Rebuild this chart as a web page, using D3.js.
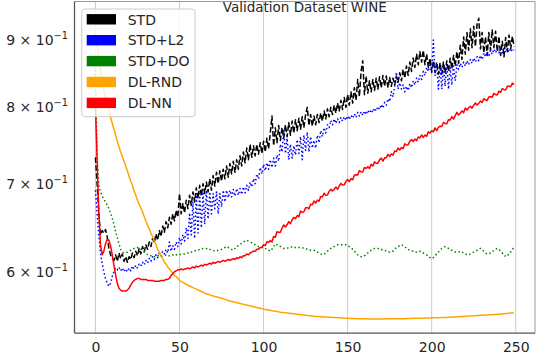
<!DOCTYPE html>
<html><head><meta charset="utf-8">
<script src="https://cdn.jsdelivr.net/npm/d3@7"></script>
<style>body{margin:0;background:#fff} svg{display:block;font-family:"DejaVu Sans",sans-serif}</style>
</head><body><svg id="c" width="552" height="356"></svg>
<script>
const chartTitle = "Validation Dataset WINE";
const seriesNames = ["STD", "STD+L2", "STD+DO", "DL-RND", "DL-NN"];
const seriesColors = ["#000000", "#0000ff", "#008000", "#ffa500", "#ff0000"];
const xTicks = [0, 50, 100, 150, 200, 250];
const yTicks = [0.9, 0.8, 0.7, 0.6];
const yTickMantissa = ["9", "8", "7", "6"];

const std = [
0.733,0.700,0.665,0.640,0.645,0.642,0.646,0.638,0.625,0.618,
0.614,0.612,0.618,0.611,0.620,0.614,0.619,0.611,0.616,0.610,
0.616,0.613,0.620,0.615,0.622,0.617,0.625,0.619,0.627,0.621,
0.629,0.624,0.632,0.627,0.636,0.631,0.641,0.634,0.645,0.638,
0.650,0.643,0.655,0.648,0.660,0.652,0.664,0.656,0.668,0.660,
0.688,0.664,0.676,0.665,0.680,0.670,0.686,0.674,0.690,0.678,
0.695,0.682,0.698,0.685,0.700,0.688,0.702,0.690,0.706,0.692,
0.710,0.697,0.714,0.700,0.716,0.703,0.718,0.706,0.722,0.708,
0.725,0.712,0.728,0.714,0.730,0.718,0.735,0.722,0.740,0.726,
0.745,0.730,0.750,0.733,0.748,0.735,0.750,0.737,0.752,0.738,
0.754,0.740,0.758,0.744,0.765,0.788,0.748,0.772,0.752,0.775,
0.755,0.772,0.758,0.776,0.760,0.779,0.762,0.781,0.765,0.783,
0.768,0.785,0.770,0.787,0.772,0.790,0.800,0.775,0.790,0.774,
0.788,0.776,0.790,0.779,0.792,0.781,0.795,0.784,0.798,0.787,
0.800,0.790,0.803,0.792,0.806,0.795,0.810,0.797,0.814,0.800,
0.818,0.803,0.822,0.806,0.828,0.810,0.840,0.815,0.852,0.868,
0.818,0.845,0.820,0.838,0.822,0.840,0.824,0.842,0.826,0.844,
0.828,0.846,0.830,0.845,0.828,0.843,0.830,0.842,0.832,0.845,
0.836,0.850,0.838,0.855,0.842,0.860,0.846,0.866,0.852,0.872,
0.858,0.878,0.862,0.882,0.866,0.884,0.862,0.878,0.858,0.872,
0.852,0.868,0.850,0.866,0.848,0.865,0.848,0.866,0.850,0.868,
0.852,0.872,0.856,0.876,0.860,0.882,0.864,0.892,0.870,0.905,
0.878,0.912,0.884,0.918,0.888,0.922,0.890,0.925,0.935,0.886,
0.912,0.880,0.905,0.876,0.912,0.884,0.916,0.888,0.914,0.882,
0.906,0.876,0.898,0.874,0.904,0.882,0.908,0.886,0.906,0.890];

const stdL2 = [
0.692,0.665,0.640,0.620,0.609,0.600,0.593,0.588,0.585,0.588,
0.595,0.600,0.604,0.602,0.605,0.601,0.604,0.600,0.603,0.600,
0.604,0.601,0.606,0.603,0.607,0.604,0.608,0.606,0.610,0.607,
0.612,0.609,0.614,0.611,0.616,0.613,0.618,0.615,0.620,0.617,
0.622,0.619,0.624,0.620,0.632,0.622,0.628,0.624,0.632,0.627,
0.637,0.630,0.640,0.633,0.648,0.636,0.665,0.640,0.678,0.636,
0.684,0.642,0.688,0.648,0.690,0.652,0.692,0.658,0.690,0.664,
0.688,0.670,0.690,0.664,0.688,0.672,0.692,0.678,0.692,0.683,
0.692,0.684,0.693,0.685,0.694,0.686,0.694,0.687,0.696,0.689,
0.698,0.692,0.702,0.696,0.706,0.700,0.712,0.706,0.720,0.712,
0.724,0.716,0.726,0.718,0.730,0.720,0.732,0.722,0.736,0.728,
0.750,0.740,0.770,0.738,0.758,0.730,0.750,0.732,0.748,0.736,
0.756,0.738,0.760,0.730,0.762,0.742,0.766,0.740,0.760,0.745,
0.755,0.745,0.762,0.752,0.768,0.760,0.772,0.765,0.776,0.772,
0.782,0.776,0.784,0.778,0.784,0.779,0.786,0.781,0.787,0.782,
0.788,0.783,0.789,0.785,0.791,0.786,0.793,0.788,0.794,0.789,
0.795,0.790,0.796,0.792,0.797,0.793,0.799,0.795,0.801,0.797,
0.804,0.799,0.807,0.803,0.812,0.808,0.822,0.815,0.830,0.851,
0.826,0.835,0.826,0.832,0.822,0.830,0.824,0.834,0.828,0.838,
0.832,0.842,0.836,0.846,0.840,0.852,0.846,0.858,0.852,0.864,
0.850,0.900,0.846,0.862,0.826,0.858,0.826,0.860,0.830,0.862,
0.826,0.858,0.832,0.860,0.838,0.862,0.855,0.864,0.858,0.866,
0.860,0.868,0.862,0.870,0.864,0.872,0.866,0.874,0.868,0.876,
0.870,0.880,0.874,0.882,0.876,0.884,0.878,0.886,0.880,0.886,
0.880,0.886,0.880,0.887,0.881,0.887,0.881,0.887,0.882,0.885];

const stdDO = [
0.854,0.730,0.698,0.690,0.685,0.681,0.678,0.674,0.670,0.665,
0.659,0.652,0.644,0.637,0.630,0.624,0.621,0.620,0.620,0.621,
0.622,0.623,0.624,0.625,0.626,0.626,0.625,0.624,0.623,0.622,
0.620,0.618,0.617,0.617,0.616,0.616,0.616,0.617,0.617,0.616,
0.617,0.617,0.618,0.617,0.617,0.618,0.618,0.617,0.618,0.618,
0.618,0.619,0.619,0.619,0.620,0.620,0.621,0.621,0.622,0.622,
0.623,0.623,0.624,0.624,0.625,0.625,0.625,0.624,0.624,0.623,
0.623,0.622,0.622,0.623,0.623,0.624,0.625,0.626,0.627,0.626,
0.625,0.624,0.623,0.625,0.627,0.628,0.629,0.631,0.632,0.633,
0.634,0.633,0.632,0.631,0.630,0.629,0.628,0.627,0.627,0.626,
0.626,0.625,0.624,0.623,0.622,0.624,0.627,0.630,0.629,0.628,
0.627,0.626,0.625,0.625,0.625,0.626,0.626,0.627,0.626,0.626,
0.626,0.626,0.626,0.626,0.625,0.625,0.624,0.624,0.623,0.623,
0.623,0.622,0.621,0.620,0.619,0.618,0.619,0.620,0.622,0.623,
0.625,0.626,0.627,0.628,0.629,0.629,0.629,0.629,0.629,0.629,
0.628,0.627,0.626,0.624,0.622,0.620,0.618,0.617,0.616,0.616,
0.617,0.618,0.620,0.622,0.623,0.624,0.625,0.625,0.625,0.624,
0.624,0.623,0.623,0.622,0.621,0.621,0.622,0.622,0.624,0.626,
0.627,0.628,0.629,0.628,0.627,0.625,0.624,0.623,0.622,0.622,
0.621,0.621,0.622,0.622,0.621,0.620,0.619,0.618,0.616,0.615,
0.614,0.615,0.617,0.619,0.621,0.623,0.625,0.626,0.627,0.626,
0.625,0.624,0.623,0.622,0.621,0.621,0.621,0.622,0.621,0.620,
0.619,0.618,0.618,0.619,0.620,0.621,0.622,0.623,0.624,0.625,
0.624,0.622,0.620,0.619,0.619,0.620,0.621,0.623,0.624,0.625,
0.624,0.622,0.620,0.618,0.616,0.617,0.619,0.621,0.624,0.626];

const dlRnd = [
0.916,0.892,0.872,0.854,0.839,0.826,0.814,0.804,0.796,0.786,
0.778,0.770,0.762,0.754,0.747,0.740,0.734,0.728,0.722,0.716,
0.709,0.703,0.698,0.691,0.686,0.680,0.675,0.671,0.666,0.661,
0.656,0.651,0.647,0.642,0.638,0.633,0.629,0.624,0.621,0.617,
0.614,0.610,0.608,0.605,0.603,0.601,0.598,0.596,0.595,0.593,
0.591,
0.5900,0.5890,0.5880,0.5870,0.5860,0.5852,0.5844,0.5836,0.5828,0.5820,
0.5812,0.5804,0.5796,0.5788,0.5780,0.5774,0.5768,0.5762,0.5756,0.5750,
0.5746,0.5742,0.5738,0.5734,0.5730,0.5724,0.5718,0.5712,0.5706,0.5700,
0.5696,0.5692,0.5688,0.5684,0.5680,0.5676,0.5672,0.5668,0.5664,0.5660,
0.5656,0.5652,0.5648,0.5644,0.5640,0.5636,0.5632,0.5628,0.5624,0.5620,
0.5617,0.5614,0.5611,0.5608,0.5605,0.5602,0.5599,0.5596,0.5593,0.5590,
0.5588,0.5586,0.5584,0.5582,0.5580,0.5578,0.5576,0.5574,0.5572,0.5570,
0.5568,0.5566,0.5564,0.5562,0.5560,0.5558,0.5556,0.5554,0.5552,0.5550,
0.5549,0.5548,0.5547,0.5546,0.5545,0.5544,0.5543,0.5542,0.5541,0.5540,
0.5539,0.5538,0.5537,0.5536,0.5535,0.5534,0.5533,0.5532,0.5531,0.5530,
0.5529,0.5529,0.5528,0.5528,0.5527,0.5527,0.5526,0.5526,0.5525,0.5525,
0.5525,0.5524,0.5524,0.5524,0.5524,0.5524,0.5524,0.5524,0.5524,0.5524,
0.5524,0.5524,0.5525,0.5525,0.5525,0.5525,0.5525,0.5525,0.5525,0.5525,
0.5526,0.5526,0.5527,0.5527,0.5528,0.5528,0.5529,0.5529,0.5530,0.5530,
0.5530,0.5531,0.5531,0.5532,0.5532,0.5533,0.5533,0.5534,0.5534,0.5535,
0.5535,0.5536,0.5536,0.5537,0.5537,0.5538,0.5538,0.5539,0.5539,0.5540,
0.5541,0.5542,0.5543,0.5544,0.5545,0.5546,0.5547,0.5548,0.5549,0.5550,
0.5551,0.5552,0.5553,0.5554,0.5555,0.5556,0.5557,0.5558,0.5559,0.5560,
0.5561,0.5562,0.5563,0.5564,0.5565,0.5566,0.5567,0.5568,0.5569,0.5570,
0.5572,0.5573,0.5575,0.5577,0.5578,0.5580,0.5582,0.5583,0.5585];

const dlNn = [
0.803,0.730,0.666,0.629,0.618,0.622,0.630,0.635,0.634,0.628,
0.618,0.607,0.597,0.588,0.583,0.581,0.580,0.580,0.580,0.581,
0.583,0.586,0.589,0.591,0.592,0.593,0.593,0.592,0.592,0.592,
0.592,0.591,0.591,0.591,0.591,0.590,0.590,0.590,0.590,0.591,
0.591,0.591,0.592,0.592,0.593,0.596,0.598,0.600,0.601,0.602,
0.602,0.603,0.602,0.603,0.603,0.604,0.603,0.604,0.605,0.604,
0.606,0.605,0.606,0.607,0.606,0.608,0.607,0.608,0.609,0.608,
0.610,0.609,0.610,0.611,0.610,0.611,0.612,0.611,0.612,0.613,
0.612,0.613,0.614,0.613,0.615,0.614,0.616,0.615,0.617,0.617,
0.619,0.618,0.620,0.621,0.622,0.622,0.624,0.624,0.626,0.626,
0.6290,0.6282,0.6324,0.6316,0.6338,0.6320,0.6382,0.6374,0.6436,0.6428,
0.6430,0.6476,0.6512,0.6488,0.6514,0.6550,0.6526,0.6572,0.6598,0.6584,
0.6620,0.6606,0.6672,0.6658,0.6664,0.6710,0.6714,0.6698,0.6752,0.6746,
0.6790,0.6766,0.6802,0.6788,0.6844,0.6840,0.6884,0.6858,0.6862,0.6906,
0.6930,0.6910,0.6930,0.6960,0.6930,0.6970,0.7002,0.6984,0.6986,0.7028,
0.7050,0.7026,0.7062,0.7048,0.7104,0.7110,0.7106,0.7162,0.7148,0.7144,
0.7200,0.7190,0.7210,0.7190,0.7240,0.7220,0.7272,0.7254,0.7256,0.7298,
0.7320,0.7282,0.7324,0.7326,0.7368,0.7340,0.7374,0.7358,0.7412,0.7406,
0.7450,0.7424,0.7458,0.7442,0.7506,0.7490,0.7494,0.7538,0.7562,0.7536,
0.7570,0.7548,0.7596,0.7584,0.7622,0.7590,0.7622,0.7604,0.7666,0.7648,
0.7680,0.7664,0.7718,0.7682,0.7726,0.7740,0.7736,0.7792,0.7778,0.7774,
0.7830,0.7826,0.7872,0.7838,0.7884,0.7930,0.7894,0.7918,0.7952,0.7926,
0.7990,0.7962,0.7994,0.8016,0.7988,0.8030,0.8062,0.8034,0.8056,0.8088,
0.8070,0.8122,0.8104,0.8096,0.8148,0.8150,0.8144,0.8198,0.8182,0.8176,
0.8230,0.8214,0.8268,0.8252,0.8246,0.8300,0.8302,0.8294,0.8346,0.8330];

const seriesData = [std, stdL2, stdDO, dlRnd, dlNn];
const seriesDash = ["5.55,2.4", "1.5,2.475", "1.5,2.475", null, null];

const svg = d3.select("#c");
const L = 74.5, R = 535, T = 1.5, B = 333;
const x = d3.scaleLinear().domain([-12.45, 261.45]).range([L, R]);
const y = d3.scaleLog().domain([0.539, 0.962]).range([B, 2]);
const textColor = "#262626";

svg.append("defs").append("clipPath").attr("id", "plotclip")
  .append("rect").attr("x", L).attr("y", T).attr("width", R - L).attr("height", B - T);

// vertical grid
svg.append("g").selectAll("line").data(xTicks).join("line")
  .attr("x1", d => x(d)).attr("x2", d => x(d)).attr("y1", T).attr("y2", B)
  .attr("stroke", "#cccccc").attr("stroke-width", 1);

// series
const line = d3.line().x((d, i) => x(i)).y(d => y(d));
const g = svg.append("g").attr("clip-path", "url(#plotclip)");
seriesData.forEach((arr, k) => {
  g.append("path").datum(arr).attr("d", line)
    .attr("fill", "none").attr("stroke", seriesColors[k]).attr("stroke-width", 1.5)
    .attr("stroke-linejoin", "round")
    .attr("stroke-dasharray", seriesDash[k]);
});

// spines
svg.append("line").attr("x1", L).attr("x2", R).attr("y1", T).attr("y2", T).attr("stroke", "#999").attr("stroke-width", 1);
svg.append("line").attr("x1", R).attr("x2", R).attr("y1", T).attr("y2", B).attr("stroke", "#999").attr("stroke-width", 1);
svg.append("line").attr("x1", L).attr("x2", L).attr("y1", T).attr("y2", B).attr("stroke", "#555").attr("stroke-width", 1.25);
svg.append("line").attr("x1", L).attr("x2", R).attr("y1", B).attr("y2", B).attr("stroke", "#555").attr("stroke-width", 1.25);

// x axis
const xAxis = svg.append("g").attr("transform", `translate(0,${B})`)
  .call(d3.axisBottom(x).tickValues(xTicks).tickSize(0).tickPadding(8.7).tickFormat(d3.format("d")));
xAxis.select(".domain").remove();
xAxis.selectAll("text").attr("font-size", 14).attr("fill", textColor).attr("font-family", "DejaVu Sans");

// y axis labels: mantissa x 10^-1
const yl = svg.append("g").selectAll("text").data(yTicks).join("text")
  .attr("x", 68).attr("y", d => y(d) + 5)
  .attr("text-anchor", "end").attr("font-size", 14).attr("fill", textColor);
yl.append("tspan").text((d, i) => yTickMantissa[i] + " \u00d7 10");
yl.append("tspan").attr("dy", -6).attr("font-size", 9.8).text("\u22121");

// title
svg.append("text").attr("x", (L + R) / 2).attr("y", 12).attr("text-anchor", "middle")
  .attr("font-size", 13.5).attr("fill", textColor).text(chartTitle);

// legend
const lg = svg.append("g");
lg.append("rect").attr("x", 81.7).attr("y", 9).attr("width", 113.3).attr("height", 107.7)
  .attr("rx", 3).attr("fill", "#fff").attr("fill-opacity", 0.8).attr("stroke", "#cccccc").attr("stroke-width", 1);
seriesNames.forEach((name, k) => {
  const cy = 19.3 + 20.9 * k;
  lg.append("rect").attr("x", 86.7).attr("y", cy - 5.2).attr("width", 29.3).attr("height", 10.4).attr("fill", seriesColors[k]);
  lg.append("text").attr("x", 127.7).attr("y", cy + 5.2).attr("font-size", 14).attr("fill", textColor).text(name);
});
</script></body></html>
